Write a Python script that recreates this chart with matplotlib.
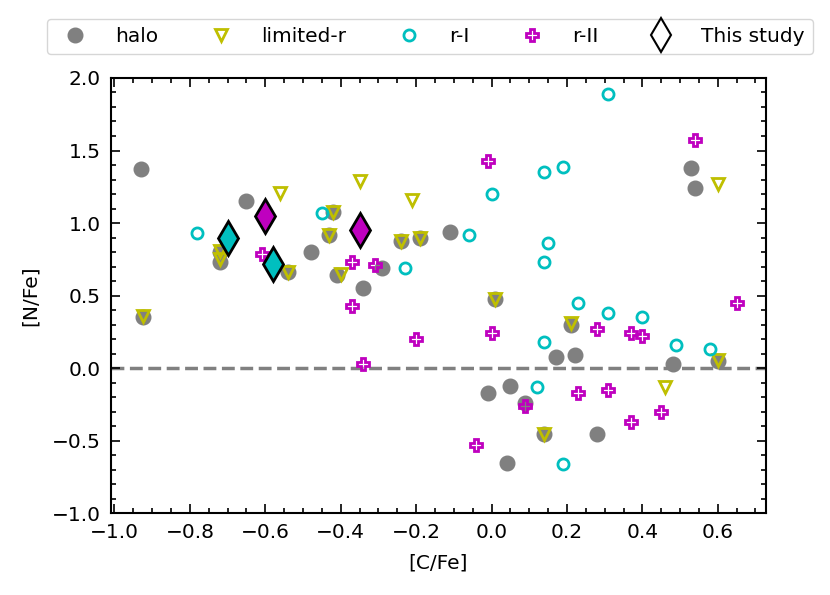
import numpy as np
import matplotlib
matplotlib.use('Agg')
from matplotlib import pyplot as plt
from matplotlib.ticker import MultipleLocator

# data #####################################################################
halo_c = [-0.93, -0.925, -0.65, -0.72, -0.72, -0.48, -0.54, -0.43, -0.42, -0.41,
          -0.29, -0.34, -0.24, -0.19, -0.11, 0.01, 0.53, 0.54, 0.21, 0.60,
          0.17, 0.22, 0.48, -0.01, 0.05, 0.09, 0.14, 0.28, 0.04]
halo_n = [1.37, 0.35, 1.15, 0.80, 0.73, 0.80, 0.66, 0.92, 1.08, 0.64,
          0.69, 0.55, 0.88, 0.90, 0.94, 0.48, 1.38, 1.24, 0.30, 0.05,
          0.08, 0.09, 0.03, -0.17, -0.12, -0.24, -0.45, -0.45, -0.65]

limr_c = [-0.925, -0.72, -0.72, -0.56, -0.54, -0.43, -0.42, -0.40, -0.35, -0.21,
          -0.24, -0.19, 0.01, 0.21, 0.60, 0.60, 0.46, 0.14]
limr_n = [0.36, 0.81, 0.75, 1.21, 0.66, 0.92, 1.08, 0.65, 1.29, 1.16,
          0.88, 0.90, 0.48, 0.31, 1.27, 0.06, -0.13, -0.45]

r1_c = [-0.78, -0.45, -0.23, -0.06, 0.00, 0.31, 0.14, 0.19, 0.15, 0.14,
        0.23, 0.31, 0.40, 0.14, 0.49, 0.58, 0.12, 0.19]
r1_n = [0.93, 1.07, 0.69, 0.92, 1.20, 1.89, 1.35, 1.39, 0.86, 0.73,
        0.45, 0.38, 0.35, 0.18, 0.16, 0.13, -0.13, -0.66]

r2_c = [-0.61, -0.31, -0.37, -0.37, -0.34, -0.20, -0.01, 0.00, 0.54, 0.65,
        0.28, 0.37, 0.40, 0.09, 0.23, 0.31, 0.45, 0.37, -0.04]
r2_n = [0.79, 0.71, 0.73, 0.43, 0.03, 0.20, 1.43, 0.24, 1.57, 0.45,
        0.27, 0.24, 0.22, -0.26, -0.17, -0.15, -0.30, -0.37, -0.53]

# this study: two r-I and two r-II stars
study_c = [-0.70, -0.58, -0.60, -0.35]
study_n = [0.90, 0.72, 1.05, 0.95]
study_col = ['c', 'c', 'm', 'm']

############################################################################

plt.rcParams['font.size'] = 14.5
fig = plt.figure(figsize=(8.3, 5.95), dpi=100)
ax = fig.add_axes([0.1334, 0.137, 0.7891, 0.732])

ax.plot(halo_c, halo_n, 'o', color='gray', ms=10.5, label='halo', zorder=2)
ax.plot(limr_c, limr_n, 'v', mfc='none', mec='y', mew=2, ms=9, label='limited-r', zorder=3)
ax.plot(r1_c, r1_n, 'o', mfc='none', mec='c', mew=2, ms=8, label='r-I', zorder=3)
ax.plot(r2_c, r2_n, 'P', mfc='none', mec='m', mew=2, ms=9, label='r-II', zorder=3)
for xx, yy, cc in zip(study_c, study_n, study_col):
    ax.plot(xx, yy, 'd', mfc=cc, mec='k', mew=2, ms=17.5, zorder=5)
ax.plot([], [], 'd', mfc='white', mec='k', mew=1.5, ms=17.5, label='This study')

ax.axhline(0, color='gray', ls='--', lw=2.5, zorder=1)

ax.set_xlim(-1.01, 0.727)
ax.set_ylim(-1.0, 2.0)
ax.xaxis.set_major_locator(MultipleLocator(0.2))
ax.xaxis.set_minor_locator(MultipleLocator(0.05))
ax.yaxis.set_major_locator(MultipleLocator(0.5))
ax.yaxis.set_minor_locator(MultipleLocator(0.1))
ax.tick_params(which='both', direction='in', top=True, right=True, width=1.2, pad=7)
ax.tick_params(which='major', length=6.5)
ax.tick_params(which='minor', length=3.5)
for sp in ax.spines.values():
    sp.set_linewidth(1.5)

ax.set_xlabel('[C/Fe]', labelpad=8)
ax.set_ylabel('[N/Fe]', labelpad=9)

fig.legend(loc='center', bbox_to_anchor=(0.518, 0.938), ncol=5, fontsize=14.5,
           columnspacing=2.1, handletextpad=1.0)

fig.savefig('out.png', dpi=100)
plt.close()
